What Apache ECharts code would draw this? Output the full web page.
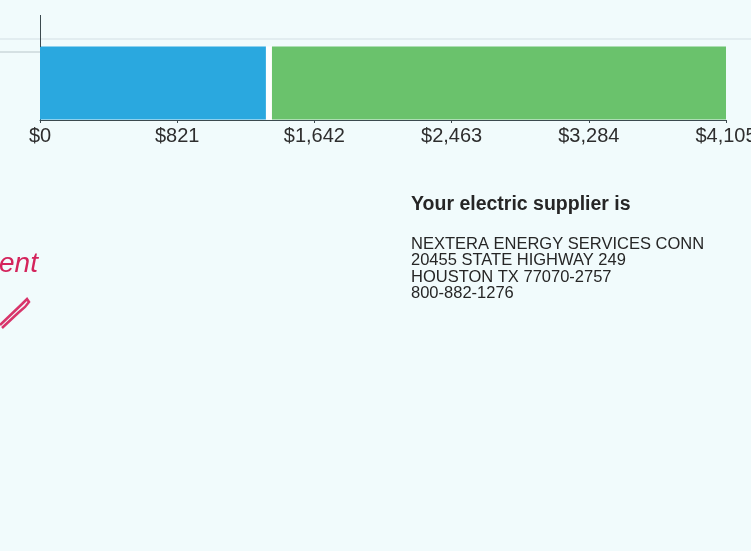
<!DOCTYPE html>
<html>
<head>
<meta charset="utf-8">
<script src="https://cdn.jsdelivr.net/npm/echarts@6/dist/echarts.min.js"></script>
<style>
html,body{margin:0;padding:0;background:#f1fbfc;}
#chart{width:751px;height:551px;}
</style>
</head>
<body>
<div id="chart"></div>
<script>
// ---- data ----
var categories = ['Total'];
var deliveryValues = [1352];   // blue segment
var spacerValues = [36];       // white separator between segments
var supplyValues = [2717];     // green segment
var axisMin = 0;
var axisMax = 4105;
var axisInterval = 821;
var supplierTitle = 'Your electric supplier is';
var supplierLines = [
  'NEXTERA ENERGY SERVICES CONN',
  '20455 STATE HIGHWAY 249',
  'HOUSTON TX 77070-2757',
  '800-882-1276'
];
var handText = 'ent';

var chart = echarts.init(document.getElementById('chart'));

var graphics = [
  {type:'line', z:0, shape:{x1:0, y1:39, x2:751, y2:39}, style:{stroke:'#dde9ec', lineWidth:1.5}},
  {type:'line', z:0, shape:{x1:0, y1:52, x2:40, y2:52}, style:{stroke:'#b9c6ca', lineWidth:1}},
  {type:'line', z:5, shape:{x1:40.5, y1:15, x2:40.5, y2:47}, style:{stroke:'#3c4a4f', lineWidth:1}},
  {type:'text', left:411, top:195, style:{text:supplierTitle, font:'bold 19.5px "Liberation Sans", Arial, sans-serif', fill:'#262626'}}
];
supplierLines.forEach(function(t, i){
  graphics.push({type:'text', left:411, top:236 + i*16.4, style:{text:t, font:'16.5px "Liberation Sans", Arial, sans-serif', fill:'#262626'}});
});
graphics.push(
  {type:'text', left:-1, top:250, style:{text:handText, font:'italic 28px "Liberation Sans", Arial, sans-serif', fill:'#d4245c'}},
  {type:'polyline', shape:{points:[[0,325],[22,304],[27,299],[29,302],[25,307],[18,313],[2,328]]}, style:{stroke:'#d8346a', lineWidth:2.5, fill:null}}
);

chart.setOption({
  backgroundColor:'#f1fbfc',
  animation:false,
  grid:{left:40, right:25, top:46, height:74, containLabel:false, outerBoundsMode:'none'},
  xAxis:{
    type:'value', min:axisMin, max:axisMax, interval:axisInterval,
    axisLine:{show:true, lineStyle:{color:'#3c4a4f', width:1}},
    axisTick:{show:true, length:3, lineStyle:{color:'#3c4a4f'}},
    splitLine:{show:false},
    axisLabel:{
      margin:6, color:'#2e2e2e', fontSize:20, fontFamily:'"Liberation Sans", Arial, sans-serif',
      formatter:function(v){ return '$' + v.toLocaleString('en-US'); },
      showMaxLabel:true, showMinLabel:true, hideOverlap:false
    }
  },
  yAxis:{
    type:'category', data:categories,
    axisLine:{show:true, lineStyle:{color:'#3c4a4f', width:1}},
    axisTick:{show:false}, axisLabel:{show:false}
  },
  series:[
    {type:'bar', stack:'bill', data:deliveryValues, barWidth:73, itemStyle:{color:'#2aa8df'}},
    {type:'bar', stack:'bill', data:spacerValues, barWidth:73, itemStyle:{color:'#ffffff'}},
    {type:'bar', stack:'bill', data:supplyValues, barWidth:73, itemStyle:{color:'#6ac26c'}}
  ],
  graphic: graphics
});
</script>
</body>
</html>
